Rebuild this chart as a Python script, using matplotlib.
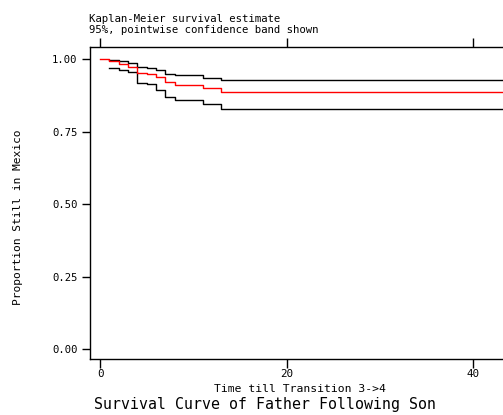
import numpy as np
import matplotlib
matplotlib.use('Agg')
import matplotlib.pyplot as plt

# uoc luong Kaplan-Meier va khoang tin cay 95%
t = [0, 1, 2, 3, 4, 5, 6, 7, 8, 11, 13]
surv = [1.0, 0.992, 0.983, 0.974, 0.953, 0.947, 0.937, 0.921, 0.912, 0.900, 0.886]
t_ci = [1, 2, 3, 4, 5, 6, 7, 8, 11, 13]
upper = [0.998, 0.992, 0.987, 0.974, 0.968, 0.963, 0.948, 0.944, 0.936, 0.928]
lower = [0.968, 0.961, 0.954, 0.918, 0.913, 0.893, 0.869, 0.860, 0.846, 0.826]
t_end = 44  # thoi gian theo doi lon nhat
xticks = [0, 20, 40]
yticks = [0, 0.25, 0.5, 0.75, 1.0]
ytick_labels = ['0.00', '0.25', '0.50', '0.75', '1.00']

W, H = 503, 415
FONT = 'DejaVu Sans Mono'


def fx(x):
    return x / W


def fy(y):
    return 1 - y / H


fig = plt.figure(figsize=(W / 100, H / 100), dpi=100)
# khung do thi (ben phai bi cat ra ngoai hinh)
left, right, top, bottom = 90, 510, 47, 359
ax = fig.add_axes([fx(left), fy(bottom), (right - left) / W, (bottom - top) / H])

ax.step(t_ci + [t_end], upper + [upper[-1]], where='post', color='black', lw=1.0)
ax.step(t_ci + [t_end], lower + [lower[-1]], where='post', color='black', lw=1.0)
ax.step(t + [t_end], surv + [surv[-1]], where='post', color='#ff0000', lw=1.0)

ax.set_xlim((left - 100) / 9.333, (right - 100) / 9.333)
ax.set_ylim(-(359 - 349) / 290, 1 + (59 - 47) / 290)

ax.set_xticks(xticks)
ax.set_xticklabels([str(v) for v in xticks], fontfamily=FONT, fontsize=7.8)
ax.set_yticks(yticks)
ax.set_yticklabels(ytick_labels, fontfamily=FONT, fontsize=7.6)
ax.tick_params(axis='x', direction='out', length=6.2, width=1.0, pad=1.2, top=True, labeltop=False)
ax.tick_params(axis='y', direction='out', length=6.0, width=1.0, pad=3.0)
for s in ['left', 'top', 'bottom', 'right']:
    ax.spines[s].set_linewidth(1.0)

fig.text(fx(89), fy(22), 'Kaplan-Meier survival estimate', fontfamily=FONT,
         fontsize=7.7, va='baseline', ha='left')
fig.text(fx(89), fy(33), '95%, pointwise confidence band shown', fontfamily=FONT,
         fontsize=7.7, va='baseline', ha='left')
fig.text(fx(299.5), fy(388.5), 'Time till Transition 3->4', fontfamily=FONT,
         fontsize=8.2, va='center', ha='center')
fig.text(fx(18), fy(217), 'Proportion Still in Mexico', fontfamily=FONT,
         fontsize=8.1, va='center', ha='center', rotation=90)
fig.text(fx(265), fy(404.5), 'Survival Curve of Father Following Son', fontfamily=FONT,
         fontsize=10.7, va='center', ha='center')

fig.savefig('out.png', dpi=100)
